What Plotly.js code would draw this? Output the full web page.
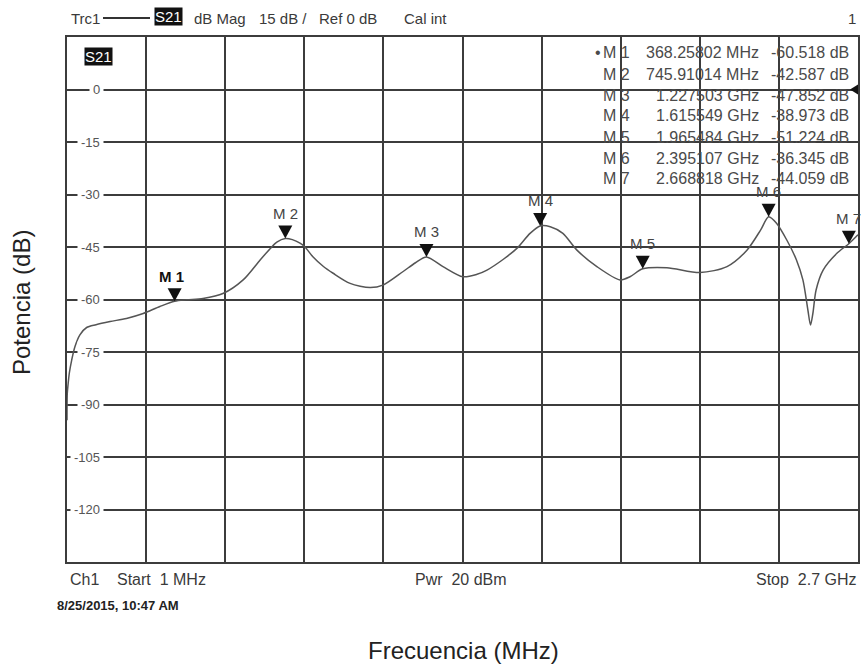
<!DOCTYPE html>
<html>
<head>
<meta charset="utf-8">
<script src="https://cdn.plot.ly/plotly-3.0.1.min.js"></script>
<style>
  html, body { margin: 0; padding: 0; background: #ffffff; }
  #chart { width: 862px; height: 666px; }
</style>
</head>
<body>
<div id="chart"></div>
<script>
// S21 sweep, 1 MHz to 2.7 GHz
const freqMHz = [1, 2, 5, 9, 17, 28, 45, 68, 100, 148, 204, 261, 318, 368.258, 410, 465, 533, 602, 660, 694, 717,
  745.91, 770, 796, 813, 840, 875, 909, 967, 1035, 1079, 1148, 1190, 1227.503, 1284, 1352, 1400, 1434, 1490, 1536,
  1581, 1615.549, 1650, 1693, 1741, 1809, 1888, 1922, 1965.484, 2048, 2161, 2253, 2321, 2368, 2395.107, 2422, 2457,
  2490, 2512, 2529, 2538, 2546, 2557, 2581, 2628, 2668.818, 2700];
const powerDb = [-94.5, -86.8, -84, -81, -77.3, -73.5, -70.1, -68, -67.2, -66.3, -65.4, -64, -62, -60.518, -60.1, -59.7,
  -58.3, -54.4, -48.7, -45.5, -43.6, -42.587, -42.9, -43.9, -45, -47.8, -50.5, -52.5, -55.4, -56.6, -55.9, -52, -49.5,
  -47.852, -50.6, -53.5, -52.8, -51.6, -48.5, -45.4, -41.1, -38.973, -39.2, -41.1, -45.9, -50.6, -54.4, -53.5, -51.224,
  -50.9, -52.3, -50.6, -45.9, -40.1, -36.345, -38.2, -43, -48.7, -54.4, -63, -67.3, -64, -57.3, -51.6, -46.8, -44.059, -41.5];

// Markers
const markerNames = ["M 1", "M 2", "M 3", "M 4", "M 5", "M 6", "M 7"];
const markerFreqMHz = [368.25802, 745.91014, 1227.503, 1615.549, 1965.484, 2395.107, 2668.818];
const markerDb = [-60.518, -42.587, -47.852, -38.973, -51.224, -36.345, -44.059];
const markerFreqText = ["368.25802 MHz", "745.91014 MHz", "1.227503 GHz", "1.615549 GHz", "1.965484 GHz", "2.395107 GHz", "2.668818 GHz"];
const markerDbText = ["-60.518 dB", "-42.587 dB", "-47.852 dB", "-38.973 dB", "-51.224 dB", "-36.345 dB", "-44.059 dB"];

// Vertical scale: 15 dB / div, reference 0 dB
const yTickValues = [0, -15, -30, -45, -60, -75, -90, -105, -120];
const yTickLabels = ["0", "-15", "-30", "-45", "-60", "-75", "-90", "-105", "-120"];

const FONT = "Liberation Sans, Arial, sans-serif";
const W = 862, H = 666;
const L = 67, R = 858, T = 37, B = 562;
const px = x => (x - L) / (R - L);
const py = y => (B - y) / (B - T);

const annotations = [];
function txt(text, x, y, opts) {
  annotations.push(Object.assign({
    text: text, xref: "paper", yref: "paper", x: px(x), y: py(y),
    xanchor: "left", yanchor: "middle", showarrow: false,
    font: { family: FONT, size: 15, color: "#3a3a3a" }
  }, opts || {}));
}

// Header line
txt("Trc1", 69, 18);
txt("S21", 168.5, 17, { xanchor: "center", bgcolor: "#111111", borderpad: 0, font: { family: FONT, size: 15, color: "#ffffff" } });
txt("dB Mag", 192, 18);
txt("15 dB /", 257, 18);
txt("Ref 0 dB", 317, 18);
txt("Cal int", 402, 18);
txt("1", 858, 18, { xanchor: "right" });

// Trace tag inside the grid
txt("S21", 98, 56, { xanchor: "center", bgcolor: "#111111", borderpad: 0, font: { family: FONT, size: 15, color: "#ffffff" } });

// Y tick labels drawn over the grid
yTickValues.forEach((v, i) => {
  annotations.push({
    text: yTickLabels[i], xref: "paper", yref: "y", x: px(104), y: v,
    xanchor: "right", yanchor: "middle", showarrow: false,
    bgcolor: "#ffffff", borderpad: 3,
    font: { family: FONT, size: 13, color: "#555555" }
  });
});

// Marker table
markerNames.forEach((name, i) => {
  const y = 53 + 21 * i;
  const f = { family: FONT, size: 16, color: "#4a4a4a" };
  if (i === 0) txt("•", 598, y, { xanchor: "center", font: f });
  txt(name, 601, y, { font: f });
  txt(markerFreqText[i], 761, y, { xanchor: "right", font: f });
  txt(markerDbText[i], 851, y, { xanchor: "right", font: f });
});

// Marker labels above the triangles
markerNames.forEach((name, i) => {
  annotations.push({
    text: i === 0 ? "<b>" + name + "</b>" : name,
    xref: "x", yref: "y", x: markerFreqMHz[i], y: markerDb[i],
    yshift: 25, xshift: i === 0 ? -3 : 0,
    xanchor: "center", yanchor: "middle", showarrow: false,
    font: { family: FONT, size: 15, color: i === 0 ? "#111111" : "#444444" }
  });
});

// Footer
txt("Ch1", 68, 579, { font: { family: FONT, size: 16, color: "#3a3a3a" } });
txt("Start  1 MHz", 115, 579, { font: { family: FONT, size: 16, color: "#3a3a3a" } });
txt("Pwr  20 dBm", 461, 579, { xanchor: "center", font: { family: FONT, size: 16, color: "#3a3a3a" } });
txt("Stop  2.7 GHz", 859, 579, { xanchor: "right", font: { family: FONT, size: 16, color: "#3a3a3a" } });
txt("<b>8/25/2015, 10:47 AM</b>", 55, 605, { font: { family: FONT, size: 13, color: "#222222" } });

// Axis titles
txt("Frecuencia (MHz)", 463, 650, { xanchor: "center", font: { family: FONT, size: 24, color: "#222222" } });
txt("Potencia (dB)", 22, 303, { xanchor: "center", textangle: -90, font: { family: FONT, size: 24, color: "#222222" } });

// Triangles pointing down at each marker
const shapes = markerFreqMHz.map((f, i) => ({
  type: "path", xref: "x", yref: "y", xsizemode: "pixel", ysizemode: "pixel",
  xanchor: f, yanchor: markerDb[i],
  path: "M-7,13 L7,13 L0,0 Z",
  fillcolor: "#111111", line: { width: 0 }
}));
// Reference-level pointer on the right edge
shapes.push({
  type: "path", xref: "x", yref: "y", xsizemode: "pixel", ysizemode: "pixel",
  xanchor: 2700, yanchor: 0, path: "M-8,0 L3,7 L3,-7 Z",
  fillcolor: "#111111", line: { width: 0 }
});
// Trace line sample in the header
shapes.push({
  type: "line", xref: "paper", yref: "paper",
  x0: px(103), x1: px(150), y0: py(18), y1: py(18),
  line: { color: "#333333", width: 2 }
});

const trace = {
  x: freqMHz, y: powerDb, type: "scatter", mode: "lines",
  line: { color: "#555555", width: 1.5, shape: "spline", smoothing: 0.8 },
  hoverinfo: "skip"
};

const layout = {
  width: W, height: H,
  margin: { l: L, r: W - R, t: T, b: H - B, pad: 0 },
  paper_bgcolor: "#ffffff", plot_bgcolor: "#ffffff",
  showlegend: false,
  xaxis: {
    range: [1, 2700], tick0: 1, dtick: 269.9, showticklabels: false, ticks: "",
    showgrid: true, gridcolor: "#3c3c3c", gridwidth: 2, zeroline: false,
    showline: true, mirror: true, linecolor: "#3c3c3c", linewidth: 2, fixedrange: true
  },
  yaxis: {
    range: [-135, 15], tick0: 0, dtick: 15, showticklabels: false, ticks: "",
    showgrid: true, gridcolor: "#3c3c3c", gridwidth: 2, zeroline: false,
    showline: true, mirror: true, linecolor: "#3c3c3c", linewidth: 2, fixedrange: true
  },
  annotations: annotations,
  shapes: shapes
};

Plotly.newPlot("chart", [trace], layout, { staticPlot: true, displayModeBar: false });
</script>
</body>
</html>
